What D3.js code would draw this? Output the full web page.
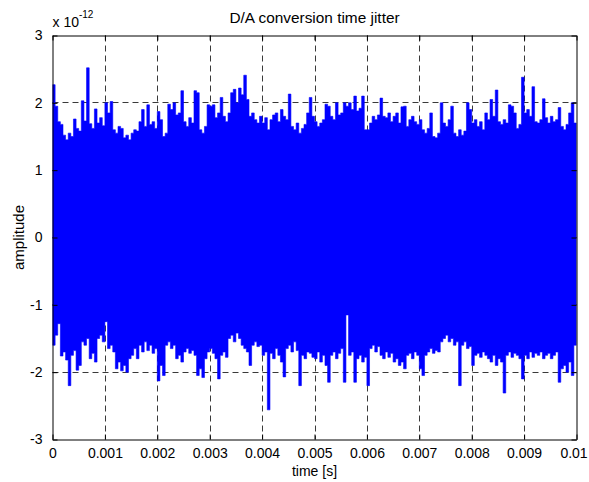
<!DOCTYPE html>
<html>
<head>
<meta charset="utf-8">
<script src="https://cdn.jsdelivr.net/npm/d3@7"></script>
<style>
  html, body { margin: 0; padding: 0; background: #fff; }
  svg { display: block; font-family: "Liberation Sans", Arial, sans-serif; }
</style>
</head>
<body>
<svg id="chart" width="589" height="482"></svg>
<script>
// Jitter record: per sample step, the local maximum and minimum of the
// amplitude (in units of 1e-12), ten rows = one row per millisecond.
const sampleStep = 0.00005;          // seconds between envelope samples
const xTicks = [0, 0.001, 0.002, 0.003, 0.004, 0.005, 0.006, 0.007, 0.008, 0.009, 0.01];
const xTickLabels = ["0", "0.001", "0.002", "0.003", "0.004", "0.005", "0.006", "0.007", "0.008", "0.009", "0.01"];
const yTicks = [-3, -2, -1, 0, 1, 2, 3];
const yTickLabels = ["-3", "-2", "-1", "0", "1", "2", "3"];

const peakHigh = [
  2.27, 1.95, 1.72, 1.68, 1.52, 1.45, 1.55, 1.50, 1.76, 1.62, 1.58, 2.03, 1.73, 2.52, 1.69, 1.62, 1.91, 1.70, 1.78, 1.66,
  2.00, 1.85, 2.02, 1.60, 1.55, 1.65, 1.62, 1.48, 1.52, 1.45, 1.55, 1.60, 1.58, 1.72, 1.90, 1.65, 1.97, 1.68, 1.72, 1.62,
  1.87, 1.75, 1.50, 1.55, 1.98, 1.90, 2.00, 1.82, 1.85, 2.18, 1.72, 1.65, 1.78, 1.70, 2.18, 2.15, 1.60, 1.55, 1.65, 1.97,
  1.95, 1.97, 1.78, 1.85, 2.08, 1.80, 1.72, 1.85, 2.15, 2.20, 2.00, 2.22, 2.12, 2.41, 2.05, 1.80, 1.85, 1.75, 1.70, 1.80,
  1.70, 1.78, 1.60, 1.75, 1.82, 1.85, 1.72, 1.90, 1.80, 1.75, 2.13, 1.65, 1.60, 1.70, 1.55, 1.62, 1.68, 1.85, 2.08, 1.80,
  1.72, 1.65, 1.70, 1.75, 1.98, 1.95, 1.80, 1.75, 2.00, 1.82, 1.85, 2.00, 1.95, 2.00, 1.90, 2.10, 1.88, 1.92, 2.10, 1.60,
  1.60, 1.70, 1.80, 1.75, 1.82, 2.07, 1.80, 1.78, 1.85, 1.72, 1.80, 1.85, 1.70, 1.94, 1.95, 1.65, 1.75, 1.80, 1.72, 1.68,
  1.75, 1.60, 1.55, 1.62, 1.85, 1.50, 1.48, 1.55, 2.00, 1.70, 1.65, 1.75, 1.95, 1.55, 1.50, 1.60, 1.52, 1.58, 2.00, 1.90,
  1.70, 1.75, 1.65, 1.72, 1.60, 1.85, 1.75, 2.05, 1.80, 2.19, 1.72, 1.68, 1.75, 1.70, 1.97, 1.95, 1.85, 1.62, 1.68, 2.38,
  1.85, 1.90, 1.80, 2.24, 1.72, 1.70, 1.75, 2.06, 1.78, 1.70, 1.80, 1.72, 1.75, 1.93, 1.65, 1.60, 1.68, 1.85, 2.00, 1.70
];

const peakLow = [
  -1.60, -1.45, -1.28, -1.76, -1.70, -1.82, -2.20, -1.75, -1.68, -1.97, -1.90, -1.55, -1.60, -1.50, -1.80, -1.72, -1.85, -1.50, -1.45, -1.55,
  -1.25, -1.65, -1.60, -1.70, -1.95, -1.85, -1.98, -1.90, -2.00, -1.80, -1.75, -1.65, -1.80, -1.60, -1.70, -1.55, -1.68, -1.60, -1.72, -1.65,
  -2.13, -1.90, -2.05, -1.60, -1.55, -1.65, -1.60, -1.80, -1.75, -1.85, -1.70, -1.65, -1.72, -1.68, -1.75, -2.05, -1.95, -2.08, -1.80, -1.70,
  -1.65, -1.72, -1.80, -2.10, -1.75, -1.70, -1.78, -1.50, -1.45, -1.55, -1.42, -1.50, -1.60, -1.65, -1.70, -1.90, -1.60, -1.55, -1.62, -1.60,
  -1.75, -1.70, -2.56, -1.72, -1.80, -1.65, -1.75, -1.85, -2.07, -1.65, -1.60, -1.70, -1.55, -1.68, -2.20, -1.75, -1.80, -1.70, -1.72, -1.78,
  -1.80, -1.70, -1.85, -1.75, -1.90, -2.15, -1.75, -1.70, -1.80, -1.72, -1.65, -2.15, -1.15, -1.75, -1.70, -2.15, -1.80, -1.75, -1.85, -1.78,
  -2.20, -1.65, -1.60, -1.70, -1.62, -1.75, -1.80, -1.70, -1.78, -1.72, -1.85, -1.80, -1.90, -1.85, -1.95, -1.75, -1.72, -1.80, -1.70, -1.75,
  -1.95, -2.05, -1.75, -1.70, -1.65, -1.72, -1.68, -1.70, -1.55, -1.50, -1.45, -1.55, -1.50, -1.60, -1.55, -2.20, -1.60, -1.55, -1.65, -1.62,
  -1.90, -1.75, -1.72, -1.78, -1.70, -1.75, -1.80, -1.85, -1.75, -1.90, -1.80, -1.85, -2.31, -1.75, -1.70, -1.78, -1.72, -1.75, -1.80, -2.10,
  -1.75, -1.80, -1.70, -1.78, -1.72, -1.75, -1.70, -1.80, -1.75, -1.72, -1.80, -1.75, -1.70, -2.15, -1.95, -1.90, -2.00, -1.85, -2.05, -1.60
];

const svg = d3.select("#chart");
const plotLeft = 52.5, plotRight = 576.5, plotTop = 35.5, plotBottom = 439.5;
const fontTick = 14;

const x = d3.scaleLinear().domain([0, 0.01]).range([plotLeft, plotRight]);
const y = d3.scaleLinear().domain([-3, 3]).range([plotBottom, plotTop]);

// clip for the trace
svg.append("defs").append("clipPath").attr("id", "plotArea")
  .append("rect").attr("x", plotLeft).attr("y", plotTop)
  .attr("width", plotRight - plotLeft).attr("height", plotBottom - plotTop);

// dashed grid
const grid = svg.append("g").attr("stroke", "#3a3a3a").attr("stroke-width", 1)
  .attr("stroke-dasharray", "6,4").attr("fill", "none");
grid.selectAll("line.vx").data(xTicks.slice(1, -1)).join("line")
  .attr("x1", d => Math.round(x(d)) + 0.5).attr("x2", d => Math.round(x(d)) + 0.5)
  .attr("y1", plotTop).attr("y2", plotBottom);
grid.selectAll("line.hy").data(yTicks.slice(1, -1)).join("line")
  .attr("y1", d => Math.round(y(d) - 0.5) + 0.5).attr("y2", d => Math.round(y(d) - 0.5) + 0.5)
  .attr("x1", plotLeft).attr("x2", plotRight);

// trace: each step spans its local minimum..maximum (dense signal band)
const steps = peakHigh.map((h, i) => ({ t: i * sampleStep, hi: h, lo: peakLow[i] }));
const last = steps[steps.length - 1];
steps.push({ t: 0.01, hi: last.hi, lo: last.lo });   // close the final step at the record end
svg.append("path")
  .attr("clip-path", "url(#plotArea)")
  .attr("d", d3.area().curve(d3.curveStepAfter)
    .x(d => x(d.t)).y0(d => y(d.lo)).y1(d => y(d.hi))(steps))
  .attr("fill", "#0000ff").attr("stroke", "#0000ff").attr("stroke-width", 0.6);

// axes with inward ticks on all four sides
function styleAxis(g) {
  g.select(".domain").attr("stroke", "#000").attr("stroke-width", 1);
  g.selectAll(".tick line").attr("stroke", "#000");
  g.selectAll(".tick text").attr("fill", "#000").attr("font-size", fontTick)
    .attr("font-family", '"Liberation Sans", Arial, sans-serif');
}
const xAxisG = svg.append("g").attr("transform", `translate(0,${plotBottom})`)
  .call(d3.axisBottom(x).tickValues(xTicks).tickFormat((d, i) => xTickLabels[i])
    .tickSizeInner(-5).tickSizeOuter(0).tickPadding(9))
  .call(styleAxis);
// keep the last label inside the canvas
xAxisG.selectAll(".tick text").filter(d => d === 0.01).attr("dx", -3);
svg.append("g").attr("transform", `translate(0,${plotTop})`)
  .call(d3.axisTop(x).tickValues(xTicks).tickFormat("")
    .tickSizeInner(-5).tickSizeOuter(0))
  .call(styleAxis);
svg.append("g").attr("transform", `translate(${plotLeft},0)`)
  .call(d3.axisLeft(y).tickValues(yTicks).tickFormat((d, i) => yTickLabels[i])
    .tickSizeInner(-5).tickSizeOuter(0).tickPadding(10))
  .call(styleAxis);
svg.append("g").attr("transform", `translate(${plotRight},0)`)
  .call(d3.axisRight(y).tickValues(yTicks).tickFormat("")
    .tickSizeInner(-5).tickSizeOuter(0))
  .call(styleAxis);

// exponent annotation
const expo = svg.append("text").attr("x", plotLeft).attr("y", 27)
  .attr("font-size", fontTick).attr("fill", "#000");
expo.append("tspan").text("x 10");
expo.append("tspan").attr("dy", -9).attr("font-size", 10).text("-12");

// titles
svg.append("text").attr("x", (plotLeft + plotRight) / 2).attr("y", 23)
  .attr("text-anchor", "middle").attr("font-size", 15.4).attr("fill", "#000")
  .text("D/A conversion time jitter");
svg.append("text").attr("x", (plotLeft + plotRight) / 2).attr("y", 476)
  .attr("text-anchor", "middle").attr("font-size", fontTick).attr("fill", "#000")
  .text("time [s]");
svg.append("text").attr("transform", `translate(24,${(plotTop + plotBottom) / 2}) rotate(-90)`)
  .attr("text-anchor", "middle").attr("font-size", 15).attr("fill", "#000")
  .text("amplitude");
</script>
</body>
</html>
